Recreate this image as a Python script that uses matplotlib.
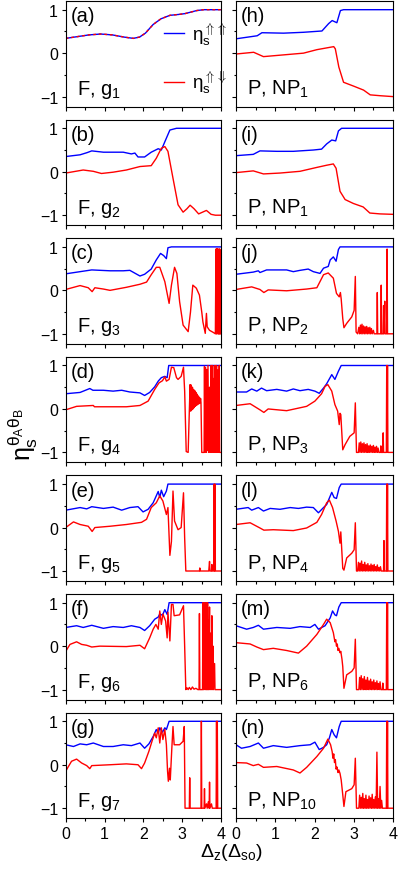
import matplotlib
matplotlib.use("Agg")

import matplotlib.pyplot as plt
from matplotlib.lines import Line2D

plt.rcParams["font.family"] = ["Liberation Sans", "DejaVu Sans"]
plt.rcParams["mathtext.fontset"] = "custom"
plt.rcParams["mathtext.rm"] = "Liberation Sans"
plt.rcParams["mathtext.it"] = "Liberation Sans"
plt.rcParams["mathtext.bf"] = "Liberation Sans:bold"

# ---- data: (Delta_z, eta) points ----
A_CURVE = [(0, 0.34), (0.3, 0.38), (0.6, 0.42), (0.9, 0.44), (1.2, 0.42), (1.5, 0.37),
           (1.74, 0.34), (1.9, 0.37), (2.05, 0.46), (2.25, 0.66), (2.45, 0.79), (2.68, 0.87),
           (2.9, 0.89), (3.07, 0.91), (3.2, 0.94), (3.37, 0.98), (3.55, 1.0), (4, 1.0)]

B_BLUE = [(0, 0.35), (0.37, 0.39), (0.55, 0.44), (0.67, 0.48), (0.97, 0.45), (1.48, 0.45),
          (1.69, 0.41), (1.78, 0.43), (1.86, 0.34), (2.03, 0.34), (2.2, 0.45), (2.38, 0.53),
          (2.46, 0.5), (2.55, 0.69), (2.68, 0.96), (2.85, 1.0), (4, 1.0)]
B_RED = [(0, -0.03), (0.45, 0.04), (0.71, 0.01), (0.92, -0.04), (1.22, -0.01), (1.56, 0.04),
         (1.91, 0.12), (2.2, 0.14), (2.33, 0.31), (2.46, 0.54), (2.55, 0.58), (2.63, 0.47),
         (2.76, -0.15), (2.89, -0.76), (3.02, -0.93), (3.12, -0.85), (3.2, -0.77), (3.3, -0.85),
         (3.42, -0.97), (3.52, -0.93), (3.62, -0.89), (3.74, -0.98), (3.85, -1.0), (4, -1.0)]

C_BLUE = [(0, 0.38), (0.37, 0.43), (0.67, 0.47), (1.14, 0.45), (1.48, 0.45), (1.65, 0.46),
          (1.75, 0.41), (1.91, 0.33), (2.03, 0.37), (2.2, 0.49), (2.33, 0.7), (2.44, 0.85),
          (2.52, 0.8), (2.59, 0.73), (2.63, 0.98), (2.72, 1.0), (4, 1.0)]
C_RED = [(0, 0.02), (0.37, 0.11), (0.58, 0.06), (0.68, -0.03), (0.75, 0.06), (0.97, 0.03),
         (1.14, 0.0), (1.56, 0.07), (1.91, 0.14), (2.08, 0.19), (2.2, 0.36), (2.33, 0.53),
         (2.42, 0.53), (2.55, 0.2), (2.66, -0.3), (2.72, 0.12), (2.8, 0.53), (2.86, 0.39),
         (2.93, -0.26), (3.02, -0.8), (3.15, -0.95), (3.21, -0.5), (3.27, 0.12), (3.36, 0.05),
         (3.44, -0.11), (3.5, -0.5), (3.53, -0.73), (3.59, -0.99), (3.62, -0.53), (3.64, -0.84),
         (3.7, -0.92), (3.8, -0.97), (3.85, -1.0),
         (3.865, 0.95), (3.872, -1), (3.879, 0.95), (3.886, -1), (3.893, 0.95), (3.9, -0.98),
         (3.907, 0.95), (3.914, -1), (3.921, 0.95), (3.928, -1), (3.935, 0.93), (3.942, -1),
         (3.949, 0.95), (3.956, -1), (3.963, 0.95), (3.97, -1), (3.977, 0.9), (3.985, -1),
         (4.0, -1)]

D_BLUE = [(0, 0.35), (0.37, 0.38), (0.62, 0.47), (0.7, 0.43), (0.97, 0.43), (1.22, 0.41),
          (1.44, 0.43), (1.65, 0.39), (1.91, 0.37), (2.03, 0.31), (2.16, 0.38), (2.29, 0.51),
          (2.38, 0.64), (2.46, 0.72), (2.55, 0.75), (2.61, 0.72), (2.65, 1.0), (4, 1.0)]
D_RED = [(0, -0.02), (0.28, 0.06), (0.71, 0.08), (0.74, 0.05), (1.14, 0.05), (1.56, 0.05),
         (1.91, 0.08), (2.12, 0.18), (2.29, 0.45), (2.4, 0.6), (2.49, 0.65), (2.55, 0.74),
         (2.59, 0.64), (2.66, 0.68), (2.72, 0.96), (2.78, 0.95), (2.85, 0.72), (2.89, 0.68),
         (2.97, 0.75), (3.03, 0.96), (3.06, 0.41), (3.1, -0.98), (3.15, -1.0), (3.18, -0.05),
         (3.2, 0.56), (3.215, -0.05), (3.23, 0.55), (3.245, -0.02), (3.26, 0.5), (3.275, 0.0),
         (3.29, 0.45), (3.305, 0.03), (3.32, 0.42), (3.335, 0.06), (3.35, 0.38), (3.365, 0.08),
         (3.38, 0.34), (3.395, 0.1), (3.41, 0.3), (3.425, 0.12), (3.44, 0.27), (3.455, 0.14),
         (3.47, 0.24), (3.48, 0.15), (3.5, -1.0), (3.56, -1.0),
         (3.57, 0.98), (3.58, -1), (3.6, 0.95), (3.62, -1), (3.63, 0.9), (3.64, -0.95),
         (3.66, 1.0), (3.68, -1), (3.7, 0.5), (3.72, -1), (3.74, 1.0), (3.75, -1), (3.76, 0.98),
         (3.77, -0.9), (3.78, 1.0), (3.79, -1), (3.8, 0.7), (3.82, -1), (3.84, 1.0), (3.85, -1),
         (3.86, 0.95), (3.87, -1), (3.88, 1.0), (3.9, -1), (3.92, 0.9), (3.93, -1), (3.95, 1.0),
         (3.96, -1), (4.0, -1)]

E_BLUE = [(0, 0.4), (0.37, 0.46), (0.54, 0.43), (0.67, 0.48), (0.97, 0.44), (1.22, 0.47),
          (1.44, 0.4), (1.65, 0.46), (1.86, 0.48), (1.99, 0.36), (2.12, 0.42), (2.25, 0.57),
          (2.38, 0.83), (2.42, 0.69), (2.46, 0.86), (2.52, 0.71), (2.59, 0.84), (2.63, 1.0),
          (4, 1.0)]
E_RED = [(0, 0.0), (0.2, 0.13), (0.37, 0.07), (0.58, 0.03), (0.68, -0.09), (0.75, 0.0),
         (1.14, 0.03), (1.56, 0.07), (1.95, 0.12), (2.08, 0.19), (2.2, 0.46), (2.33, 0.57),
         (2.42, 0.73), (2.5, 0.61), (2.59, 0.3), (2.63, 0.46), (2.68, -0.64), (2.72, -0.32),
         (2.76, 0.84), (2.8, 0.15), (2.89, -0.05), (2.97, 0.0), (3.03, 0.8), (3.06, -0.24),
         (3.09, -1.0), (3.44, -1.0), (3.45, -0.93), (3.46, -1.0), (3.68, -1.0), (3.7, -0.78),
         (3.71, -1.0), (3.75, -1.0), (3.76, -0.85), (3.77, -1.0), (3.81, -1.0), (3.82, 1.0),
         (3.83, -1.0), (3.84, 1.0), (3.85, -1.0), (4, -1.0)]

F_BLUE = [(0, 0.43), (0.28, 0.47), (0.45, 0.43), (0.67, 0.48), (0.97, 0.41), (1.22, 0.45),
          (1.48, 0.43), (1.69, 0.47), (1.91, 0.43), (2.03, 0.36), (2.16, 0.47), (2.29, 0.62),
          (2.38, 0.67), (2.42, 0.74), (2.49, 0.71), (2.55, 0.84), (2.61, 0.73), (2.66, 1.0),
          (4, 1.0)]
F_RED = [(0, -0.12), (0.11, 0.04), (0.28, 0.1), (0.41, 0.04), (0.54, 0.02), (0.67, -0.02),
         (0.88, 0.0), (1.56, -0.01), (1.91, 0.02), (2.03, -0.06), (2.16, 0.19), (2.25, 0.39),
         (2.32, 0.5), (2.38, 0.39), (2.42, 0.81), (2.46, 0.5), (2.5, 0.74), (2.57, 0.58),
         (2.61, 0.19), (2.63, 0.78), (2.68, 0.12), (2.72, 0.96), (2.76, 0.96), (2.79, 0.7),
         (2.93, 0.72), (3.03, 0.93), (3.06, 0.0), (3.09, -1.0), (3.12, -0.96), (3.15, -1.0),
         (3.18, -0.95), (3.22, -1.0), (3.26, -0.94), (3.3, -0.99), (3.35, -0.97), (3.4, -1.0),
         (3.43, -1.0), (3.44, 0.75), (3.45, -1.0), (3.52, -1.0),
         (3.53, 1.0), (3.54, -1), (3.55, 0.95), (3.56, -1), (3.57, 1.0), (3.58, -0.9),
         (3.59, 0.9), (3.6, -1), (3.61, 1.0), (3.62, -1), (3.63, 0.8), (3.64, -1), (3.65, 1.0),
         (3.66, -1), (3.67, 0.6), (3.68, -1), (3.7, 0.9), (3.71, -1), (3.73, 0.3), (3.74, -1),
         (3.76, 0.7), (3.77, -1), (3.79, 0.0), (3.8, -1), (3.83, -0.4), (3.84, -1), (4, -1)]

G_BLUE = [(0, 0.46), (0.2, 0.42), (0.37, 0.48), (0.54, 0.46), (0.71, 0.5), (0.97, 0.42),
          (1.22, 0.42), (1.48, 0.46), (1.69, 0.44), (1.91, 0.5), (2.03, 0.38), (2.14, 0.48),
          (2.25, 0.65), (2.33, 0.81), (2.38, 0.73), (2.42, 0.85), (2.49, 0.75), (2.55, 0.85),
          (2.59, 0.81), (2.66, 1.0), (4, 1.0)]
G_RED = [(0, -0.15), (0.07, -0.04), (0.15, 0.08), (0.28, 0.13), (0.41, 0.04), (0.54, -0.02),
         (0.62, -0.09), (0.67, -0.02), (1.14, 0.0), (1.56, 0.02), (1.86, 0.0), (1.95, -0.09),
         (2.03, 0.04), (2.14, 0.31), (2.22, 0.54), (2.29, 0.73), (2.33, 0.62), (2.38, 0.85),
         (2.42, 0.5), (2.46, 0.85), (2.5, 0.58), (2.55, 0.81), (2.59, 0.46), (2.62, -0.15),
         (2.64, -0.38), (2.67, -0.08), (2.69, -0.35), (2.73, 0.38), (2.76, 0.88), (2.79, 0.46),
         (2.93, 0.46), (3.02, 0.54), (3.05, 0.88), (3.07, -1.0), (3.18, -1.0), (3.19, -0.3),
         (3.2, -1.0), (3.48, -1.0), (3.49, 1.0), (3.5, -1.0), (3.56, -1.0), (3.57, -0.55),
         (3.58, -1.0), (3.62, -0.9), (3.64, -1.0), (3.67, -0.85), (3.69, -1), (3.7, -0.4),
         (3.71, -1.0), (3.75, -0.9), (3.77, -1), (3.87, -1.0), (3.88, 1.0), (3.89, -1.0),
         (3.9, 1.0), (3.91, -1.0), (4, -1.0)]

H_BLUE = [(0, 0.33), (0.54, 0.4), (0.66, 0.47), (1.21, 0.46), (1.72, 0.48), (2.19, 0.51),
          (2.36, 0.68), (2.45, 0.75), (2.57, 0.7), (2.66, 0.98), (2.74, 1.0), (4, 1.0)]
H_RED = [(0, -0.02), (0.45, 0.02), (0.7, -0.08), (1.21, -0.04), (1.72, 0.0), (2.06, 0.08),
         (2.49, 0.15), (2.53, 0.1), (2.62, -0.32), (2.74, -0.67), (3.0, -0.76), (3.25, -0.85),
         (3.42, -0.96), (3.68, -0.98), (4, -1.0)]

I_BLUE = [(0, 0.37), (0.44, 0.4), (0.61, 0.48), (1.04, 0.47), (1.46, 0.47), (1.97, 0.5),
          (2.18, 0.52), (2.31, 0.64), (2.44, 0.73), (2.54, 0.71), (2.61, 0.94), (2.69, 1.0),
          (4, 1.0)]
I_RED = [(0, -0.02), (0.44, 0.02), (0.7, -0.05), (1.12, -0.03), (1.63, 0.01), (2.06, 0.1),
         (2.31, 0.15), (2.48, 0.18), (2.55, 0.08), (2.65, -0.45), (2.78, -0.64), (2.99, -0.73),
         (3.24, -0.81), (3.41, -0.95), (3.67, -0.97), (4, -0.98)]

J_BLUE = [(0, 0.37), (0.44, 0.42), (0.57, 0.45), (0.61, 0.41), (0.78, 0.47), (1.29, 0.47),
          (1.46, 0.43), (1.63, 0.46), (1.84, 0.49), (1.97, 0.43), (2.14, 0.39), (2.23, 0.51),
          (2.35, 0.55), (2.4, 0.7), (2.48, 0.77), (2.55, 0.67), (2.61, 0.94), (2.65, 1.0),
          (4, 1.0)]
J_RED = [(0, 0.02), (0.4, 0.08), (0.61, 0.02), (0.71, -0.05), (0.82, 0.01), (1.29, -0.01),
         (1.8, 0.03), (2.06, 0.06), (2.23, 0.36), (2.35, 0.4), (2.48, 0.28), (2.56, -0.07),
         (2.63, -0.15), (2.66, -0.05), (2.68, -0.2), (2.72, -0.65), (2.75, -0.86), (2.82, -0.76),
         (2.95, -0.61), (3.01, -0.46), (3.04, 0.32), (3.06, -0.96), (3.1, -1.0),
         (3.13, -0.85), (3.15, -1), (3.17, -0.8), (3.19, -1), (3.21, -0.78), (3.23, -1),
         (3.25, -0.82), (3.27, -1), (3.29, -0.84), (3.31, -1), (3.33, -0.83), (3.35, -1),
         (3.37, -0.86), (3.39, -1), (3.41, -0.85), (3.43, -1), (3.45, -0.88), (3.47, -1),
         (3.5, -0.92), (3.52, -1), (3.59, -1), (3.6, -0.05), (3.61, -1), (3.69, -1),
         (3.7, 0.12), (3.71, -1), (3.75, -1), (3.76, -0.35), (3.77, -1), (3.79, -0.25),
         (3.8, -1), (3.84, -1), (3.85, 0.95), (3.86, -1), (4, -1)]

K_BLUE = [(0, 0.39), (0.27, 0.39), (0.4, 0.46), (0.53, 0.41), (0.65, 0.48), (0.78, 0.42),
          (1.04, 0.45), (1.29, 0.41), (1.46, 0.46), (1.63, 0.42), (1.84, 0.45), (2.01, 0.41),
          (2.12, 0.36), (2.23, 0.48), (2.31, 0.58), (2.44, 0.79), (2.52, 0.68), (2.61, 0.87),
          (2.68, 1.0), (4, 1.0)]
K_RED = [(0, 0.08), (0.36, 0.12), (0.61, -0.02), (0.71, -0.08), (0.82, 0.0), (1.29, -0.04),
         (1.8, 0.06), (2.01, 0.18), (2.18, 0.35), (2.27, 0.52), (2.34, 0.56), (2.44, 0.41),
         (2.52, 0.1), (2.59, -0.05), (2.63, -0.36), (2.65, -0.1), (2.67, -0.13), (2.72, -0.94),
         (2.78, -0.82), (2.9, -0.63), (3.01, -0.55), (3.04, 0.14), (3.07, -1.0),
         (3.12, -1), (3.14, -0.78), (3.16, -1), (3.18, -0.76), (3.2, -1), (3.22, -0.8),
         (3.24, -1), (3.26, -0.78), (3.28, -1), (3.3, -0.82), (3.32, -1), (3.34, -0.8),
         (3.36, -1), (3.38, -0.85), (3.4, -1), (3.42, -0.83), (3.44, -1), (3.46, -0.86),
         (3.48, -1), (3.5, -0.84), (3.52, -1), (3.54, -0.88), (3.56, -1), (3.58, -0.86),
         (3.6, -1), (3.62, -0.9), (3.64, -1), (3.68, -1), (3.69, -0.85), (3.7, -1), (3.74, -1),
         (3.75, -0.55), (3.76, -1), (3.83, -1), (3.84, 1.0), (3.85, -1), (3.86, 1.0), (3.87, -1),
         (4, -1)]

L_BLUE = [(0, 0.42), (0.31, 0.46), (0.4, 0.4), (0.57, 0.46), (0.7, 0.38), (0.87, 0.44),
          (1.12, 0.42), (1.38, 0.46), (1.59, 0.44), (1.8, 0.47), (1.97, 0.46), (2.1, 0.34),
          (2.23, 0.46), (2.31, 0.53), (2.44, 0.81), (2.5, 0.69), (2.56, 0.67), (2.63, 0.92),
          (2.68, 1.0), (4, 1.0)]
L_RED = [(0, 0.07), (0.36, 0.11), (0.61, -0.01), (0.71, -0.06), (0.95, -0.05), (1.46, -0.07),
         (1.8, -0.01), (2.06, 0.12), (2.18, 0.3), (2.31, 0.57), (2.38, 0.63), (2.46, 0.46),
         (2.55, 0.15), (2.61, -0.09), (2.65, -0.36), (2.67, -0.1), (2.72, -0.94), (2.75, -0.98),
         (2.82, -0.7), (2.95, -0.59), (3.01, -0.51), (3.04, 0.11), (3.07, -1),
         (3.1, -1), (3.12, -0.8), (3.14, -1), (3.16, -0.82), (3.18, -1), (3.2, -0.77),
         (3.22, -1), (3.24, -0.85), (3.26, -1), (3.28, -0.8), (3.3, -1), (3.32, -0.86),
         (3.34, -1), (3.36, -0.83), (3.38, -1), (3.4, -0.88), (3.42, -1), (3.44, -0.84),
         (3.46, -1), (3.48, -0.87), (3.5, -1), (3.52, -0.85), (3.54, -1), (3.56, -0.9),
         (3.58, -1), (3.6, -0.86), (3.62, -1), (3.64, -0.92), (3.66, -1), (3.68, -0.9),
         (3.7, -1), (3.76, -1), (3.77, -0.3), (3.78, -1), (3.83, -1), (3.84, 1.0), (3.85, -1),
         (3.86, 1.0), (3.87, -1), (4, -1)]

M_BLUE = [(0, 0.47), (0.27, 0.39), (0.44, 0.43), (0.57, 0.48), (0.7, 0.39), (1.04, 0.43),
          (1.38, 0.41), (1.63, 0.45), (1.89, 0.43), (2.01, 0.5), (2.1, 0.39), (2.27, 0.47),
          (2.4, 0.65), (2.46, 0.81), (2.52, 0.72), (2.56, 0.7), (2.62, 0.9), (2.68, 1.0),
          (4, 1.0)]
M_RED = [(0, 0.08), (0.36, 0.05), (0.53, -0.02), (0.7, -0.08), (0.95, -0.05), (1.29, -0.1),
         (1.59, -0.16), (1.8, 0.0), (2.06, 0.27), (2.23, 0.5), (2.31, 0.62), (2.4, 0.54),
         (2.48, 0.31), (2.52, 0.1), (2.54, 0.15), (2.56, 0.0), (2.58, 0.05), (2.6, -0.1),
         (2.62, -0.05), (2.65, -0.15), (2.67, -0.12), (2.7, -0.3), (2.72, -0.47), (2.75, -0.97),
         (2.82, -0.66), (2.95, -0.58), (3.01, -0.5), (3.04, 0.16), (3.07, -1),
         (3.13, -1), (3.15, -0.72), (3.17, -1), (3.19, -0.68), (3.21, -1), (3.23, -0.75),
         (3.25, -1), (3.27, -0.7), (3.29, -1), (3.31, -0.78), (3.33, -1), (3.35, -0.72),
         (3.37, -1), (3.39, -0.8), (3.41, -1), (3.43, -0.76), (3.45, -1), (3.47, -0.82),
         (3.49, -1), (3.51, -0.78), (3.53, -1), (3.55, -0.84), (3.57, -1), (3.59, -0.8),
         (3.61, -1), (3.63, -0.86), (3.65, -1), (3.67, -0.82), (3.69, -1), (3.73, -1),
         (3.74, -0.85), (3.75, -1), (3.83, -1), (3.84, 1.0), (3.85, -1), (3.86, 1.0),
         (3.87, -1), (4, -1)]

N_BLUE = [(0, 0.46), (0.14, 0.38), (0.36, 0.42), (0.57, 0.5), (0.7, 0.38), (0.95, 0.44),
          (1.29, 0.4), (1.63, 0.44), (1.89, 0.46), (2.01, 0.52), (2.12, 0.35), (2.23, 0.4),
          (2.31, 0.46), (2.38, 0.62), (2.44, 0.81), (2.5, 0.69), (2.56, 0.62), (2.63, 0.88),
          (2.68, 1.0), (4, 1.0)]
N_RED = [(0, 0.05), (0.27, 0.04), (0.44, -0.02), (0.57, 0.01), (0.7, -0.06), (1.04, -0.04),
         (1.46, -0.12), (1.63, -0.19), (1.8, -0.06), (2.06, 0.19), (2.23, 0.38), (2.34, 0.59),
         (2.41, 0.46), (2.45, 0.3), (2.47, 0.15), (2.49, 0.25), (2.51, 0.05), (2.53, 0.12),
         (2.55, -0.1), (2.57, -0.05), (2.6, -0.18), (2.62, -0.12), (2.65, -0.2), (2.68, -0.35),
         (2.72, -0.69), (2.75, -0.96), (2.8, -0.62), (2.95, -0.55), (3.01, -0.46), (3.04, 0.15),
         (3.07, -1),
         (3.13, -1), (3.15, -0.7), (3.17, -1), (3.19, -0.75), (3.21, -1), (3.23, -0.66),
         (3.25, -1), (3.27, -0.78), (3.29, -1), (3.31, -0.7), (3.33, -1), (3.35, -0.8),
         (3.37, -1), (3.39, -0.72), (3.41, -1), (3.43, -0.76), (3.45, -1), (3.47, -0.68),
         (3.49, -1), (3.51, -0.8), (3.53, -1), (3.55, -0.74), (3.57, -1), (3.59, 0.29),
         (3.61, -1), (3.63, -0.78), (3.65, -1), (3.67, -0.5), (3.69, -1), (3.71, -0.82),
         (3.73, -1), (3.83, -1), (3.84, 1.0), (3.85, -1), (3.86, 1.0), (3.87, -1), (4, -1)]

LEFT_PANELS = [("(a)", "F, g$_1$", A_CURVE, A_CURVE),
               ("(b)", "F, g$_2$", B_BLUE, B_RED),
               ("(c)", "F, g$_3$", C_BLUE, C_RED),
               ("(d)", "F, g$_4$", D_BLUE, D_RED),
               ("(e)", "F, g$_5$", E_BLUE, E_RED),
               ("(f)", "F, g$_6$", F_BLUE, F_RED),
               ("(g)", "F, g$_7$", G_BLUE, G_RED)]
RIGHT_PANELS = [("(h)", "P, NP$_1$", H_BLUE, H_RED),
                ("(i)", "P, NP$_1$", I_BLUE, I_RED),
                ("(j)", "P, NP$_2$", J_BLUE, J_RED),
                ("(k)", "P, NP$_3$", K_BLUE, K_RED),
                ("(l)", "P, NP$_4$", L_BLUE, L_RED),
                ("(m)", "P, NP$_6$", M_BLUE, M_RED),
                ("(n)", "P, NP$_{10}$", N_BLUE, N_RED)]

X_TICKS = [0, 1, 2, 3, 4]
Y_TICKS = [-1, 0, 1]


def style_axes(ax, show_x, show_y):
    ax.set_xlim(0, 4)
    ax.set_ylim(-1.23, 1.2)
    ax.set_xticks(X_TICKS)
    ax.set_xticks([0.5, 1.5, 2.5, 3.5], minor=True)
    ax.set_yticks(Y_TICKS)
    ax.set_yticks([-0.5, 0.5], minor=True)
    ax.tick_params(which="major", direction="out", length=3, width=0.8, labelsize=11.5,
                   pad=2.5)
    ax.tick_params(which="minor", direction="out", length=1.8, width=0.8)
    if not show_x:
        ax.set_xticklabels([])
    if not show_y:
        ax.set_yticklabels([])
    for sp in ax.spines.values():
        sp.set_linewidth(0.8)


def draw(ax, pts, **kw):
    xs, ys = zip(*pts)
    ax.plot(xs, ys, **kw)


W, H = 399, 870
fig = plt.figure(figsize=(W / 100, H / 100), dpi=100)
panel_h, period, top0 = 105.6, 118.6, 2.0

for col, panels in enumerate([LEFT_PANELS, RIGHT_PANELS]):
    x0, w = (65.7, 155.5) if col == 0 else (236.0, 157.0)
    for row, (tag, label, blue, red) in enumerate(panels):
        bottom = H - (top0 + row * period + panel_h)
        ax = fig.add_axes([x0 / W, bottom / H, w / W, panel_h / H])
        style_axes(ax, show_x=(row == 6), show_y=(col == 0))
        draw(ax, blue, color="#0000ff", lw=1.0)
        if tag == "(a)":
            draw(ax, red, color="#ff0000", lw=1.0, ls=(0, (2, 2)))
        else:
            draw(ax, red, color="#ff0000", lw=1.0)
        ax.text(0.03, 0.95, tag, transform=ax.transAxes, fontsize=14.5,
                ha="left", va="top")
        ax.text(0.07, 0.12, label, transform=ax.transAxes, fontsize=14.5,
                ha="left", va="baseline")
        if tag == "(a)":
            handles = [Line2D([], [], color="#0000ff", lw=1.0),
                       Line2D([], [], color="#ff0000", lw=1.0)]
            ax.legend(handles,
                      [r"$\eta_s^{\Uparrow\Uparrow}$", r"$\eta_s^{\Uparrow\Downarrow}$"],
                      loc="center left", bbox_to_anchor=(0.63, 0.46), frameon=False,
                      fontsize=13.5, handlelength=1.1, handletextpad=0.4,
                      labelspacing=1.2, borderpad=0, borderaxespad=0)

fig.text(0.058, 0.5, r"$\eta_s^{\theta_A\theta_B}$", rotation=90, fontsize=18,
         ha="center", va="center")
fig.text(0.58, 0.02, r"$\Delta_z(\Delta_{so})$", fontsize=14, ha="center", va="center")

fig.savefig("out.png", dpi=100)
